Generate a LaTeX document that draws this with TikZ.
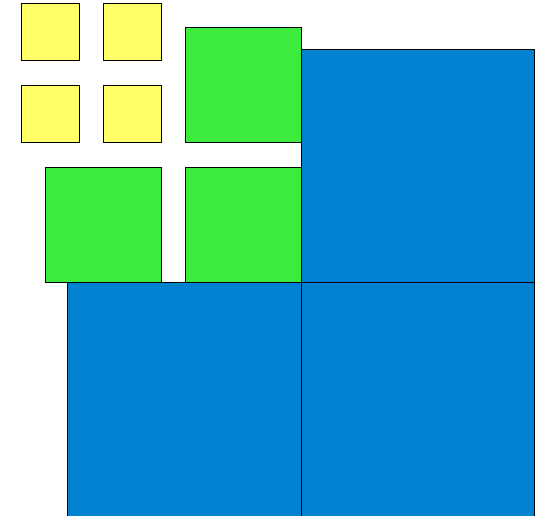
\documentclass[tikz,border=0pt]{standalone}
\usepackage{tikz}
\definecolor{sqblue}{HTML}{0082D0}
\definecolor{sqgreen}{HTML}{3DEB3D}
\definecolor{sqyellow}{HTML}{FFFF66}

\begin{document}
\begin{tikzpicture}[x=1pt, y=-1pt,
    bigsq/.style={fill=sqblue, draw=black, line width=0.8pt},
    midsq/.style={fill=sqgreen, draw=black, line width=0.8pt},
    smallsq/.style={fill=sqyellow, draw=black, line width=0.8pt}]
  \useasboundingbox (0,0) rectangle (544,515);
  \clip (0,0) rectangle (544,515);
  % yellow squares
  \foreach \x/\y in {21.3/3.3, 103.3/3.3, 21.3/85, 103.3/85}
    \draw[smallsq] (\x,\y) rectangle ++(58,57.5);
  % green squares
  \foreach \x/\y in {185.3/27, 45/167, 185.3/167}
    \draw[midsq] (\x,\y) rectangle ++(116,115.5);
  % blue squares (the lower two run past the bottom edge)
  \draw[bigsq] (301.3,49.3) rectangle ++(233.2,233.2);
  \foreach \x in {67.7, 301.3}
    \draw[bigsq] (\x,282.3) rectangle ++(233.2,236);
\end{tikzpicture}
\end{document}
